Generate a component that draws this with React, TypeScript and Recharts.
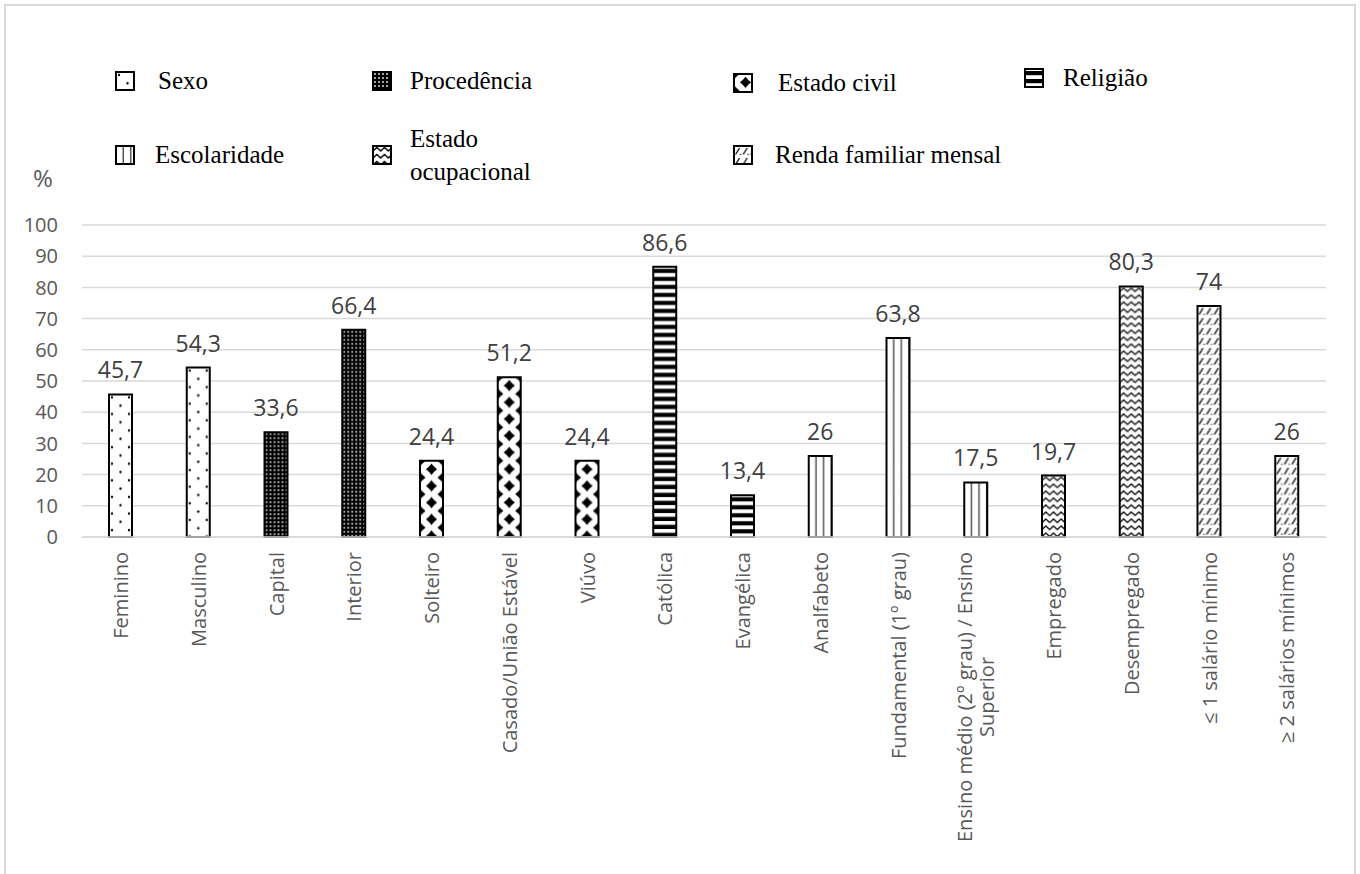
import { useLayoutEffect, useRef, useState } from "react";
import {
  BarChart,
  Bar,
  XAxis,
  YAxis,
  CartesianGrid,
  Cell,
  LabelList,
} from "recharts";

const categories = [
  "Feminino",
  "Masculino",
  "Capital",
  "Interior",
  "Solteiro",
  "Casado/União Estável",
  "Viúvo",
  "Católica",
  "Evangélica",
  "Analfabeto",
  "Fundamental (1º grau)",
  "Ensino médio (2º grau) / Ensino Superior",
  "Empregado",
  "Desempregado",
  "≤ 1 salário mínimo",
  "≥ 2 salários mínimos",
];

const percentages = [
  45.7, 54.3, 33.6, 66.4, 24.4, 51.2, 24.4, 86.6, 13.4, 26, 63.8, 17.5, 19.7,
  80.3, 74, 26,
];

const categoryGroup = [
  "sexo",
  "sexo",
  "procedencia",
  "procedencia",
  "civil",
  "civil",
  "civil",
  "religiao",
  "religiao",
  "escolaridade",
  "escolaridade",
  "escolaridade",
  "ocupacional",
  "ocupacional",
  "renda",
  "renda",
];

const groupKeys = [
  "sexo",
  "procedencia",
  "civil",
  "religiao",
  "escolaridade",
  "ocupacional",
  "renda",
];

const groupNames = [
  "Sexo",
  "Procedência",
  "Estado civil",
  "Religião",
  "Escolaridade",
  "Estado\nocupacional",
  "Renda familiar mensal",
];

const tickLabels = [
  ["Feminino"],
  ["Masculino"],
  ["Capital"],
  ["Interior"],
  ["Solteiro"],
  ["Casado/União Estável"],
  ["Viúvo"],
  ["Católica"],
  ["Evangélica"],
  ["Analfabeto"],
  ["Fundamental (1º grau)"],
  ["Ensino médio (2º grau) / Ensino", "Superior"],
  ["Empregado"],
  ["Desempregado"],
  ["≤ 1 salário mínimo"],
  ["≥ 2 salários mínimos"],
];

const yTicks = [0, 10, 20, 30, 40, 50, 60, 70, 80, 90, 100];

const data = categories.map((name, i) => ({
  name,
  value: percentages[i],
  group: categoryGroup[i],
}));

const FONT = "'Open Sans', 'DejaVu Sans', sans-serif";
const AXIS_GREY = "#595959";
const FRAME = "#d9d9d9";

// legend placement (icon left, text left, row centre)
const legendSlots = [
  { icon: 115, text: 158, cy: 81 },
  { icon: 372, text: 410, cy: 81 },
  { icon: 733, text: 778, cy: 83 },
  { icon: 1024, text: 1063, cy: 78 },
  { icon: 115, text: 155, cy: 155 },
  { icon: 372, text: 410, cy: 155 },
  { icon: 733, text: 775, cy: 155 },
];

function star(cx: number, cy: number, r: number, k: number) {
  return `M${cx},${cy - r} Q${cx + k},${cy - k} ${cx + r},${cy} Q${cx + k},${cy + k} ${cx},${cy + r} Q${cx - k},${cy + k} ${cx - r},${cy} Q${cx - k},${cy - k} ${cx},${cy - r} Z`;
}

function PatternDefs() {
  const starCentres = [
    [11.5, 8.35],
    [0, 0],
    [23, 0],
    [0, 16.7],
    [23, 16.7],
  ];
  return (
    <svg width={0} height={0} style={{ position: "absolute" }}>
      <defs>
        <pattern id="tile-sexo" patternUnits="userSpaceOnUse" width={17} height={16.6}>
          <rect width={17} height={16.6} fill="#fff" />
          <circle cx={3} cy={3} r={1.2} fill="#000" />
          <circle cx={11.5} cy={11.3} r={1.2} fill="#000" />
        </pattern>
        <pattern id="tile-procedencia" patternUnits="userSpaceOnUse" width={4} height={4}>
          <rect width={4} height={4} fill="#000" />
          <rect x={1.2} y={1.2} width={1.6} height={1.6} fill="#fff" />
        </pattern>
        <pattern id="tile-civil" patternUnits="userSpaceOnUse" width={23} height={16.7}>
          <rect width={23} height={16.7} fill="#fff" />
          {starCentres.map(([cx, cy], i) => (
            <path key={i} d={star(cx, cy, 5.6, 2.3)} fill="#000" />
          ))}
        </pattern>
        <pattern id="tile-religiao" patternUnits="userSpaceOnUse" width={10} height={8}>
          <rect width={10} height={8} fill="#fff" />
          <rect y={2} width={10} height={4.2} fill="#000" />
        </pattern>
        <pattern id="tile-escolaridade" patternUnits="userSpaceOnUse" width={7.67} height={10}>
          <rect width={7.67} height={10} fill="#fff" />
          <rect x={6.67} width={2} height={10} fill="#000" />
        </pattern>
        <pattern id="tile-ocupacional" patternUnits="userSpaceOnUse" width={7.67} height={7}>
          <rect width={7.67} height={7} fill="#fff" />
          <path
            d="M-0.5,5.5 L3.83,1.5 L8.2,5.5"
            stroke="#000"
            strokeWidth={1.4}
            fill="none"
          />
        </pattern>
        <pattern id="tile-renda" patternUnits="userSpaceOnUse" width={7.67} height={10}>
          <rect width={7.67} height={10} fill="#fff" />
          <line x1={1.5} y1={8.5} x2={5.5} y2={2} stroke="#000" strokeWidth={1.3} />
          <circle cx={6.5} cy={8.5} r={0.7} fill="#000" />
        </pattern>
        {groupKeys.map((g) => (
          <pattern
            key={g}
            id={`pat-${g}`}
            patternUnits="objectBoundingBox"
            width={1}
            height={1}
          >
            <rect width={2000} height={2000} fill={`url(#tile-${g})`} />
          </pattern>
        ))}
      </defs>
    </svg>
  );
}

function CategoryTick(props: any) {
  const { x, y, payload } = props;
  const idx = categories.indexOf(payload.value);
  const lines = tickLabels[idx] ?? [String(payload.value)];
  const firstRef = useRef<SVGTextElement>(null);
  const [firstLen, setFirstLen] = useState(0);

  useLayoutEffect(() => {
    if (lines.length > 1 && firstRef.current) {
      setFirstLen(firstRef.current.getComputedTextLength());
    }
  }, [lines.length]);

  const lineGap = 22;
  return (
    <g>
      {lines.map((line, i) => {
        const dx = (i - (lines.length - 1) / 2) * lineGap;
        const top = i === 0 ? y : y + firstLen / 2;
        return (
          <text
            key={i}
            ref={i === 0 ? firstRef : undefined}
            transform={`translate(${x + dx},${top}) rotate(-90)`}
            textAnchor={i === 0 ? "end" : "middle"}
            dy="0.36em"
            fill={AXIS_GREY}
            fontSize={20}
            fontFamily={FONT}
          >
            {line}
          </text>
        );
      })}
    </g>
  );
}

function LegendBlock() {
  return (
    <>
      {groupNames.map((name, i) => {
        const slot = legendSlots[i];
        const lines = name.split("\n");
        return (
          <div
            key={name}
            style={{
              position: "absolute",
              left: slot.icon,
              top: slot.cy - 40,
              height: 80,
              display: "flex",
              alignItems: "center",
              fontFamily: "'Liberation Serif', 'Times New Roman', serif",
              fontSize: 25,
              fontWeight: 400,
              color: "#000",
              whiteSpace: "nowrap",
            }}
          >
            <svg width={20} height={20} style={{ flex: "none" }}>
              <rect
                x={1}
                y={1}
                width={18}
                height={18}
                fill={`url(#pat-${groupKeys[i]})`}
                stroke="#000"
                strokeWidth={2}
              />
            </svg>
            <div
              style={{
                marginLeft: slot.text - slot.icon - 20,
                lineHeight: lines.length > 1 ? "33px" : "normal",
              }}
            >
              {lines.map((l, j) => (
                <div key={j}>{l}</div>
              ))}
            </div>
          </div>
        );
      })}
    </>
  );
}

export default function App() {
  return (
    <div
      style={{
        position: "fixed",
        left: 0,
        top: 0,
        width: 1360,
        height: 874,
        overflow: "hidden",
        background: "#fff",
      }}
    >
      <PatternDefs />
      <LegendBlock />
      <div
        style={{
          position: "absolute",
          left: 33,
          top: 161,
          fontFamily: FONT,
          fontSize: 24,
          color: AXIS_GREY,
        }}
      >
        %
      </div>
      <div style={{ position: "absolute", left: 0, top: 0 }}>
        <BarChart
          width={1360}
          height={874}
          data={data}
          margin={{ top: 225, right: 34, bottom: 37, left: 22 }}
        >
          <CartesianGrid vertical={false} stroke="#d9d9d9" strokeWidth={1.5} />
          <XAxis
            dataKey="name"
            interval={0}
            height={300}
            tickLine={false}
            tickSize={0}
            tickMargin={15}
            axisLine={{ stroke: "#d9d9d9", strokeWidth: 1.5 }}
            tick={<CategoryTick />}
          />
          <YAxis
            domain={[0, 100]}
            ticks={yTicks}
            interval={0}
            width={60}
            axisLine={false}
            tickLine={false}
            tickSize={0}
            tickMargin={24}
            tick={{ fill: AXIS_GREY, fontSize: 20, fontFamily: FONT }}
          />
          <Bar
            dataKey="value"
            barSize={23}
            stroke="#000"
            strokeWidth={2}
            isAnimationActive={false}
          >
            {data.map((d) => (
              <Cell key={d.name} fill={`url(#pat-${d.group})`} />
            ))}
            <LabelList
              dataKey="value"
              position="top"
              offset={16}
              formatter={(v: any) => String(v).replace(".", ",")}
              fill="#404040"
              fontSize={23}
              fontFamily={FONT}
            />
          </Bar>
        </BarChart>
      </div>
      {/* chart frame: left, top and right edges (bottom runs off the page) */}
      <div style={{ position: "absolute", left: 4, top: 4, width: 2, height: 870, background: FRAME }} />
      <div style={{ position: "absolute", left: 4, top: 4, width: 1352, height: 2, background: FRAME }} />
      <div style={{ position: "absolute", left: 1354, top: 4, width: 2, height: 870, background: FRAME }} />
    </div>
  );
}
